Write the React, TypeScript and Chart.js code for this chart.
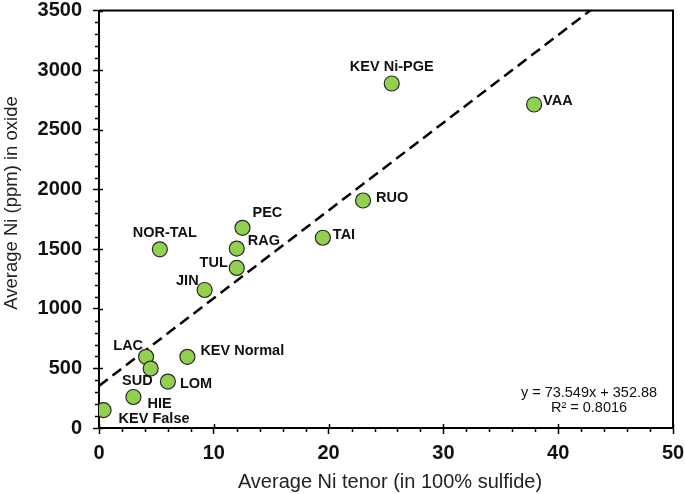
import React, { useEffect, useRef } from "react";
import { Chart, registerables } from "chart.js";

Chart.register(...registerables);

// ---- data ----
const sites = ["KEV False", "HIE", "LAC", "SUD", "LOM", "KEV Normal", "NOR-TAL", "PEC", "RAG", "TUL", "JIN", "TAI", "RUO", "KEV Ni-PGE", "VAA"];
const niTenor = [0.4, 3.0, 4.1, 4.5, 6.0, 7.7, 5.3, 12.5, 12.0, 12.0, 9.2, 19.5, 23.0, 25.5, 37.9];
const niOxide = [150, 260, 597, 498, 389, 597, 1498, 1678, 1504, 1342, 1157, 1595, 1907, 2888, 2712];

const trendSlope = 73.549;
const trendIntercept = 352.88;
const equationLines = ["y = 73.549x + 352.88", "R\u00B2 = 0.8016"];

const xTitle = "Average Ni tenor (in 100% sulfide)";
const yTitle = "Average Ni (ppm) in oxide";
const xRange = [0, 50];
const yRange = [0, 3500];
const xMajorStep = 10;
const yMajorStep = 500;
const xMinorStep = 2;
const yMinorStep = 100;

// label placement (style only): [dx, dy, align]
const labelOffsets: [number, number, CanvasTextAlign][] = [
  [15, 9, "left"],
  [14, 7, "left"],
  [-3, -11, "right"],
  [2, 12, "right"],
  [12, 2, "left"],
  [13, -6, "left"],
  [5, -16, "center"],
  [10, -15, "left"],
  [11, -8, "left"],
  [-9, -5, "right"],
  [-6, -9, "right"],
  [10, -3, "left"],
  [13, -3, "left"],
  [0, -17, "center"],
  [9, -3, "left"],
];

const FONT = "'Liberation Sans', Arial, Helvetica, sans-serif";

const overlay = {
  id: "overlay",
  afterDraw(chart: any) {
    const { ctx, chartArea: a } = chart;
    const x = chart.scales.x;
    const y = chart.scales.y;
    ctx.save();
    ctx.strokeStyle = "#000";
    ctx.lineWidth = 2;
    ctx.beginPath();
    ctx.moveTo(a.left, a.top);
    ctx.lineTo(a.right, a.top);
    ctx.lineTo(a.right, a.bottom);
    ctx.stroke();

    ctx.lineWidth = 1.5;
    ctx.beginPath();
    for (let v = xRange[0]; v <= xRange[1] + 1e-9; v += xMinorStep) {
      const px = Math.round(x.getPixelForValue(v)) + 0.5;
      if (Math.abs(v % xMajorStep) < 1e-9) {
        ctx.moveTo(px, a.bottom);
        ctx.lineTo(px, a.bottom - 4);
      } else {
        ctx.moveTo(px, a.bottom);
        ctx.lineTo(px, a.bottom + 4);
      }
    }
    for (let v = yRange[0]; v <= yRange[1] + 1e-9; v += yMinorStep) {
      const py = Math.round(y.getPixelForValue(v)) + 0.5;
      if (Math.abs(v % yMajorStep) < 1e-9) {
        ctx.moveTo(a.left, py);
        ctx.lineTo(a.left + 4, py);
      } else {
        ctx.moveTo(a.left, py);
        ctx.lineTo(a.left - 4, py);
      }
    }
    ctx.stroke();

    // point labels
    ctx.fillStyle = "#111";
    ctx.font = `bold 14.5px ${FONT}`;
    ctx.textBaseline = "middle";
    sites.forEach((s, i) => {
      const [dx, dy, al] = labelOffsets[i];
      ctx.textAlign = al;
      ctx.fillText(s, x.getPixelForValue(niTenor[i]) + dx, y.getPixelForValue(niOxide[i]) + dy);
    });

    // equation
    ctx.font = `14.5px ${FONT}`;
    ctx.textAlign = "center";
    ctx.textBaseline = "alphabetic";
    ctx.fillText(equationLines[0], 589, 397);
    ctx.fillText(equationLines[1], 589, 412);

    // axis titles
    ctx.fillStyle = "#222";
    ctx.font = `20px ${FONT}`;
    ctx.textAlign = "center";
    ctx.fillText(xTitle, (a.left + a.right) / 2 + 4, 488);

    ctx.save();
    ctx.translate(17, 203);
    ctx.rotate(-Math.PI / 2);
    ctx.font = `18.5px ${FONT}`;
    ctx.textAlign = "center";
    ctx.textBaseline = "alphabetic";
    ctx.fillText(yTitle, 0, 0);
    ctx.restore();

    ctx.restore();
  },
};

const zeroPad = (s: any) => {
  s.paddingTop = 0;
  s.paddingBottom = 0;
  s.paddingLeft = 0;
  s.paddingRight = 0;
};

export default function App() {
  const ref = useRef<HTMLCanvasElement | null>(null);
  useEffect(() => {
    document.body.style.margin = "0";
    const canvas = ref.current!;
    const points = niTenor.map((t, i) => ({ x: t, y: niOxide[i] }));
    const trend = [
      { x: xRange[0], y: trendSlope * xRange[0] + trendIntercept },
      { x: xRange[1], y: trendSlope * xRange[1] + trendIntercept },
    ];
    const chart = new Chart(canvas, {
      type: "scatter",
      data: {
        datasets: [
          {
            label: "sites",
            data: points,
            backgroundColor: "#92D050",
            borderColor: "#2a2a2a",
            borderWidth: 1.2,
            pointRadius: 7.5,
            order: 1,
          },
          {
            type: "line",
            label: "trend",
            data: trend,
            borderColor: "#000",
            borderWidth: 2.5,
            borderDash: [11, 6],
            pointRadius: 0,
            fill: false,
            order: 2,
          } as any,
        ],
      },
      options: {
        animation: false,
        responsive: false,
        devicePixelRatio: 1,
        layout: { padding: { top: 10.5, right: 12, left: 0, bottom: 0 } },
        plugins: { legend: { display: false }, tooltip: { enabled: false } },
        scales: {
          x: {
            type: "linear",
            min: xRange[0],
            max: xRange[1],
            ticks: { stepSize: xMajorStep, color: "#111", padding: 7, font: { family: FONT, size: 20, weight: "bold" }, callback: (v: any) => String(v) },
            grid: { drawOnChartArea: false, tickLength: 6, tickColor: "#000", tickWidth: 1.5 },
            border: { color: "#000", width: 2 },
            afterFit: (s: any) => {
              s.height = 66;
              zeroPad(s);
            },
          },
          y: {
            type: "linear",
            min: yRange[0],
            max: yRange[1],
            ticks: { stepSize: yMajorStep, color: "#111", padding: 11, font: { family: FONT, size: 20, weight: "bold" }, callback: (v: any) => String(v) },
            grid: { drawOnChartArea: false, tickLength: 6, tickColor: "#000", tickWidth: 1.5 },
            border: { color: "#000", width: 2 },
            afterFit: (s: any) => {
              s.width = 99;
              zeroPad(s);
            },
          },
        },
      },
      plugins: [overlay],
    });
    return () => chart.destroy();
  }, []);
  return (
    <div style={{ width: 685, height: 494 }}>
      <canvas ref={ref} width={685} height={494} style={{ width: 685, height: 494, display: "block" }} />
    </div>
  );
}
